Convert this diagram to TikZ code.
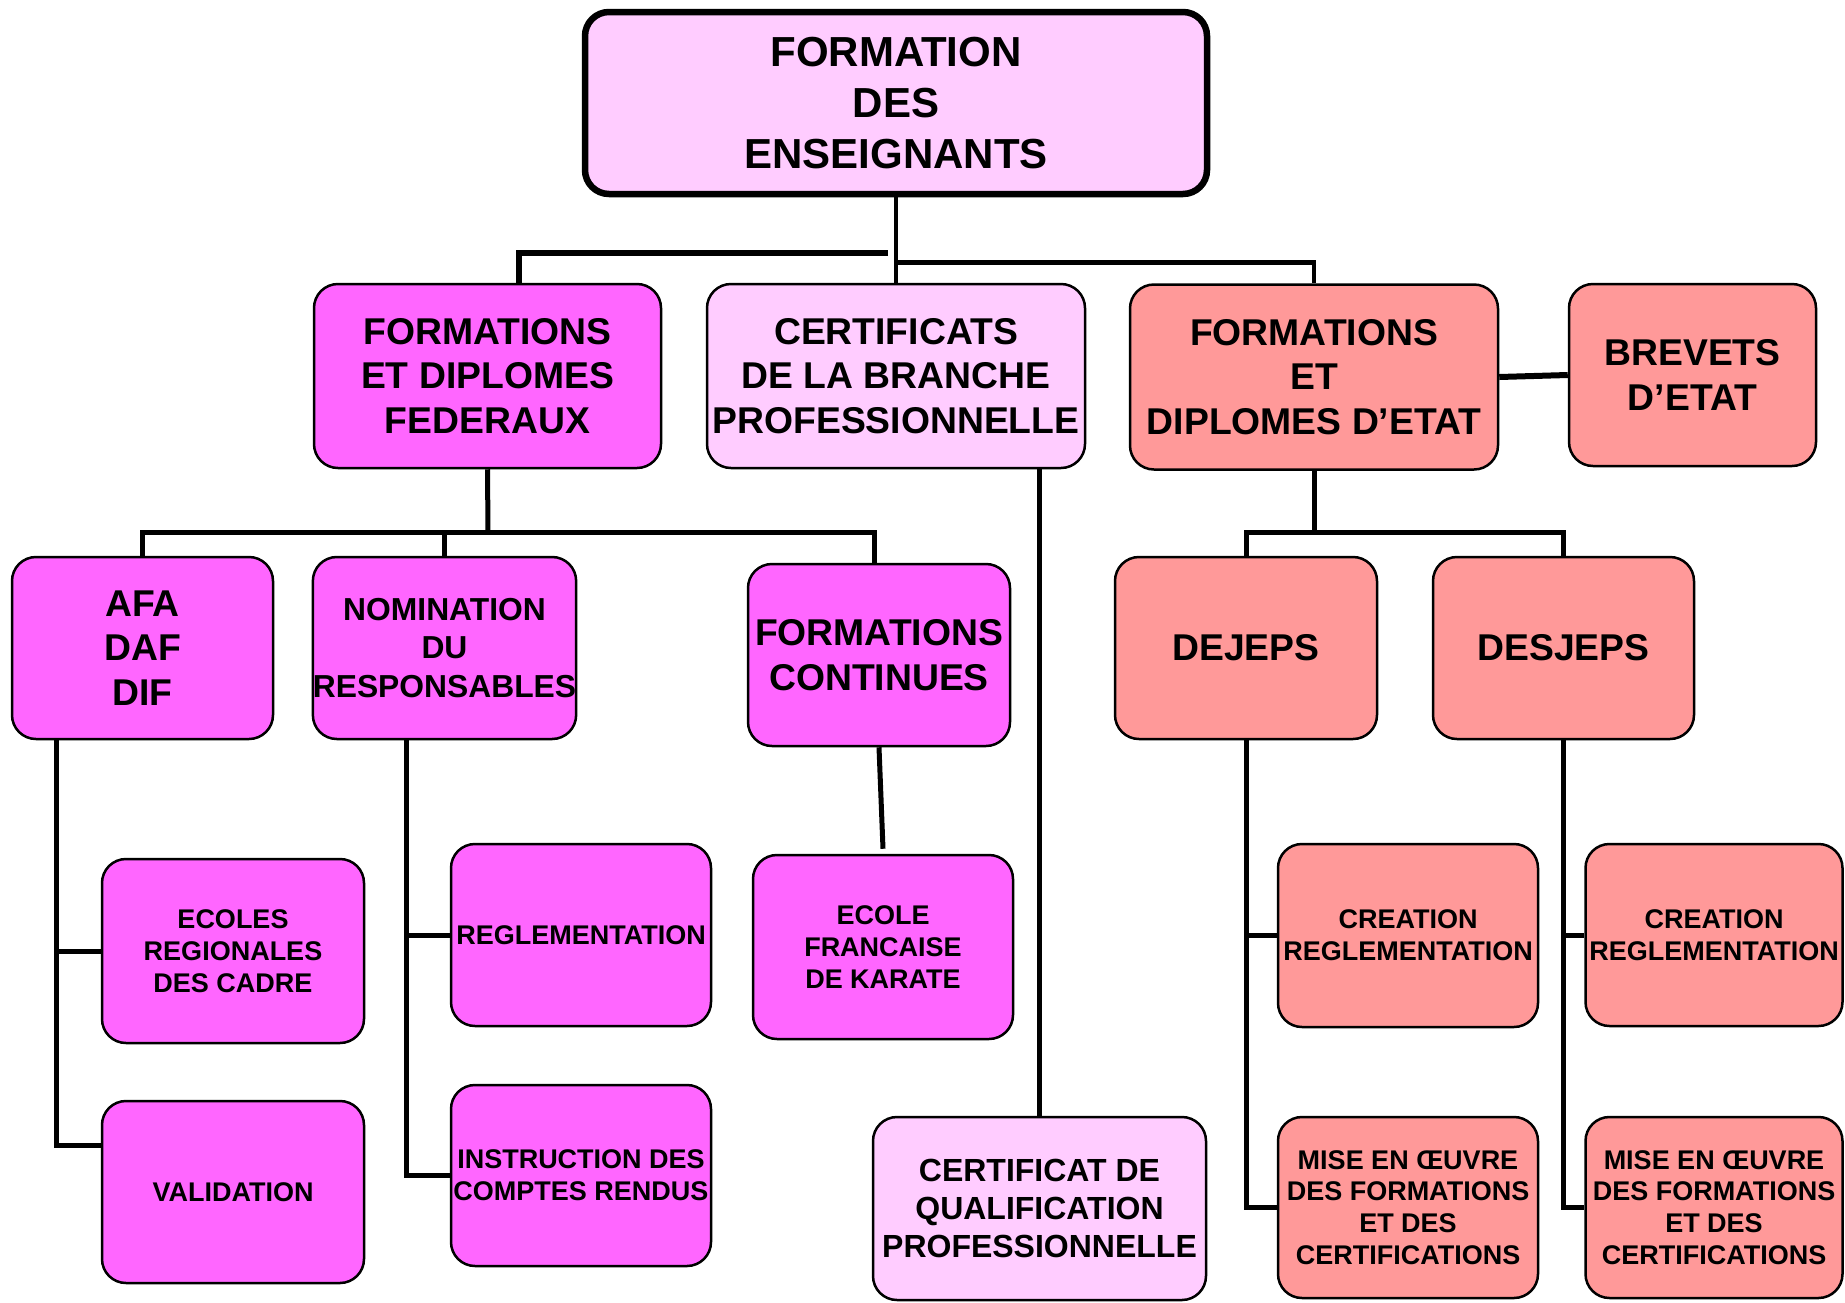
\documentclass[tikz,border=0pt]{standalone}
\usepackage{fontspec}
\setmainfont{Liberation Sans}
\begin{document}
\begin{tikzpicture}[x=1pt,y=-1pt,
  box/.style={draw=black,line width=2.5pt,rounded corners=24pt,align=center,inner sep=0pt,font=\bfseries},
  mag/.style={box,fill=magc},
  pnk/.style={box,fill=pnkc},
  sal/.style={box,fill=salc},
  fA/.style={font=\fontsize{42}{50.6}\selectfont\bfseries},
  fB/.style={font=\fontsize{37.3}{44.7}\selectfont\bfseries},
  fC/.style={font=\fontsize{31.8}{38.8}\selectfont\bfseries},
  fD/.style={font=\fontsize{32}{37.7}\selectfont\bfseries},
  fE/.style={font=\fontsize{27}{31.8}\selectfont\bfseries},
  conn/.style={draw=black,line width=5pt}
]
\definecolor{magc}{HTML}{FF66FF}
\definecolor{pnkc}{HTML}{FFCCFF}
\definecolor{salc}{HTML}{FF9999}
\useasboundingbox[fill=white] (0,0) rectangle (1845,1302);

% nodes
\node[pnk,fA,line width=6.5pt,minimum width=622,minimum height=182] (top) at (896,103) {FORMATION\\DES\\ENSEIGNANTS};
\node[mag,fB,minimum width=347,minimum height=184] (fed) at (487.5,376) {FORMATIONS\\ET DIPLOMES\\FEDERAUX};
\node[pnk,fB,minimum width=378,minimum height=184] (cbp) at (896,376) {CERTIFICATS\\DE LA BRANCHE\\PROFESSIONNELLE};
\node[sal,fB,minimum width=368,minimum height=185] (fde) at (1314,377) {FORMATIONS\\ET\\DIPLOMES D’ETAT};
\node[sal,fB,minimum width=247,minimum height=182] (brev) at (1692.5,375) {BREVETS\\D’ETAT};
\node[mag,fB,minimum width=261,minimum height=182] (afa) at (142.5,648) {AFA\\DAF\\DIF};
\node[mag,fC,minimum width=261,minimum height=182] (nom) at (444.5,648) {NOMINATION\\DU\\RESPONSABLES};
\node[mag,fB,minimum width=262,minimum height=182] (fc) at (879,655) {FORMATIONS\\CONTINUES};
\node[sal,fB,minimum width=262,minimum height=182] (dej) at (1246,648) {DEJEPS};
\node[sal,fB,minimum width=261,minimum height=182] (desj) at (1563.5,648) {DESJEPS};
\node[mag,fE,minimum width=262,minimum height=184] (ecr) at (233,951) {ECOLES\\REGIONALES\\DES CADRE};
\node[mag,fE,minimum width=260,minimum height=182] (regl) at (581,935) {REGLEMENTATION};
\node[mag,fE,minimum width=260,minimum height=184] (efk) at (883,947) {ECOLE\\FRANCAISE\\DE KARATE};
\node[sal,fE,minimum width=260,minimum height=183] (cr1) at (1408,935.5) {CREATION\\REGLEMENTATION};
\node[sal,fE,minimum width=257,minimum height=182] (cr2) at (1714,935) {CREATION\\REGLEMENTATION};
\node[mag,fE,minimum width=262,minimum height=182] (val) at (233,1192) {VALIDATION};
\node[mag,fE,minimum width=260,minimum height=181] (ins) at (581,1175.5) {INSTRUCTION DES\\COMPTES RENDUS};
\node[pnk,fD,minimum width=333,minimum height=183] (cqp) at (1039.5,1208.5) {CERTIFICAT DE\\QUALIFICATION\\PROFESSIONNELLE};
\node[sal,fE,minimum width=260,minimum height=181] (mis1) at (1408,1207.5) {MISE EN ŒUVRE\\DES FORMATIONS\\ET DES\\CERTIFICATIONS};
\node[sal,fE,minimum width=257,minimum height=181] (mis2) at (1714,1207.5) {MISE EN ŒUVRE\\DES FORMATIONS\\ET DES\\CERTIFICATIONS};

% junction coordinates
\coordinate (j1) at (888,253);
\coordinate (j2) at (488,532);
\coordinate (j3) at (1314,532);

% top level
\draw[line width=4.5pt] (top.south) -- (cbp.north);
\draw[conn,line width=5.5pt] (j1) -| ([xshift=31.5pt]fed.north);
\draw[line width=4.5pt] ([yshift=-65pt]top.south) -| (fde.north);

% federal branch
\draw[conn] (fed.south) -- (j2);
\draw[conn] (afa.north) |- (j2) -| ([xshift=-5pt]fc.north);
\draw[conn] (nom.north) -- (nom.north |- j2);

% AFA children
\draw[conn] (afa.south -| 56,0) |- (val.west |- 0,1145);
\draw[conn] (56,0 |- ecr.west) -- (ecr.west);
% Nomination children
\draw[conn] (nom.south -| 406,0) |- (ins.west);
\draw[conn] (406,0 |- regl.west) -- (regl.west);
% Formations continues
\draw[conn] (fc.south) -- ([yshift=5pt]efk.north);
% CBP -> CQP
\draw[conn] (cbp.south -| cqp.north) -- (cqp.north);

% Etat branch
\draw[conn] (fde.south) -- (j3);
\draw[conn] (dej.north) |- (j3) -| (desj.north);
\draw[conn,line width=6pt] (fde.east) -- (brev.west);
\draw[conn] (dej.south) |- (mis1.west);
\draw[conn] (dej.south |- cr1.west) -- (cr1.west);
\draw[conn] (desj.south) |- (mis2.west);
\draw[conn] (desj.south |- cr2.west) -- (cr2.west);
\end{tikzpicture}
\end{document}
